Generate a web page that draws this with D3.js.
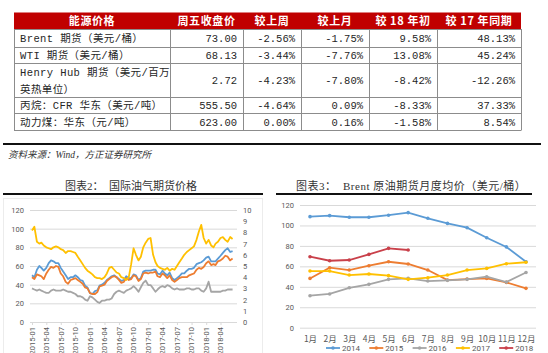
<!DOCTYPE html>
<html>
<head>
<meta charset="utf-8">
<script src="https://cdn.jsdelivr.net/npm/d3@7"></script>
<style>
body { margin: 0; background: #fff; }
svg { display: block; }
</style>
</head>
<body>
<script>

// ---- table data ----
var tableHeader = ["能源价格", "周五收盘价", "较上周", "较上月", "较 18 年初", "较 17 年同期"];
var products = [["Brent 期货（美元/桶）"], ["WTI 期货（美元/桶）"], ["Henry Hub 期货（美元/百万", "英热单位）"], ["丙烷：CFR 华东（美元/吨）"], ["动力煤：华东（元/吨）"]];
var closePrice = ["73.00", "68.13", "2.72", "555.50", "623.00"];
var chgWeek = ["-2.56%", "-3.44%", "-4.23%", "-4.64%", "0.00%"];
var chgMonth = ["-1.75%", "-7.76%", "-7.80%", "0.09%", "0.16%"];
var chgYtd = ["9.58%", "13.08%", "-8.42%", "-8.33%", "-1.58%"];
var chgYoy = ["48.13%", "45.24%", "-12.26%", "37.33%", "8.54%"];

// ---- chart 2: futures prices, two points per month from 2015-01 ----
var dateTicks = ["2015-01", "2015-04", "2015-07", "2015-10", "2016-01", "2016-04", "2016-07", "2016-10",
                 "2017-01", "2017-04", "2017-07", "2017-10", "2018-01", "2018-04"];
var brent = [50,48, 56,60, 58,55, 58,63, 66,65, 63,63, 58,54, 50,46, 48,48, 50,48, 45,44, 39,37,
             31,30, 33,34, 39,40, 42,45, 47,49, 50,48, 46,44, 45,49, 47,47, 51,50, 45,47, 54,55,
             55,55, 56,56, 52,51, 55,52, 50,53, 47,45, 47,49, 52,52, 55,57, 57,58, 62,63, 64,66,
             69,70, 65,65, 65,68, 71,74, 77,79, 75,76];
var wti = [48,46, 51,50, 49,46, 52,56, 59,58, 60,59, 52,49, 43,41, 45,46, 47,45, 43,41, 37,36,
           31,30, 30,32, 38,39, 40,44, 46,48, 49,48, 45,42, 43,47, 45,46, 50,49, 44,46, 52,53,
           52,53, 53,54, 49,48, 52,50, 47,50, 45,43, 45,47, 48,48, 48,50, 51,52, 56,58, 57,59,
           63,65, 61,62, 61,65, 66,68, 71,70, 66,68];
var henryHub = [3.0,2.9, 2.8,2.9, 2.8,2.7, 2.6,2.6, 2.8,2.9, 2.8,2.8, 2.8,2.9, 2.8,2.7, 2.7,2.6, 2.5,2.3, 2.3,2.2, 2.0,1.9,
                2.3,2.2, 2.0,1.8, 1.7,1.9, 1.9,2.0, 2.0,2.1, 2.5,2.7, 2.8,2.7, 2.6,2.8, 2.9,3.0, 3.2,3.0, 2.7,3.1, 3.5,3.7,
                3.3,3.3, 3.0,2.7, 2.9,3.1, 3.2,3.1, 3.3,3.2, 3.0,2.9, 3.0,2.9, 2.9,2.9, 3.0,3.0, 2.9,2.9, 3.0,3.0, 2.8,2.7,
                3.0,3.6, 2.7,2.7, 2.7,2.7, 2.7,2.8, 2.8,2.9, 2.9,2.9];
var propane = [98,102, 86,84, 85,82, 80,79, 78,80, 81,80, 78,77, 74,76, 76,75, 74,70, 66,62, 58,55,
               53,51, 48,47, 47,46, 48,52, 58,59, 56,53, 52,48, 47,45, 48,62, 79,72, 66,70, 80,85,
               89,90, 72,64, 60,58, 57,56, 58,55, 57,56, 60,64, 68,72, 75,77, 79,81, 88,97, 104,90,
               84,88, 82,80, 84,86, 90,91, 88,86, 91,89];

// ---- chart 3: Brent monthly averages ----
var months = ["1月", "2月", "3月", "4月", "5月", "6月", "7月", "8月", "9月", "10月", "11月", "12月"];
var years = ["2014", "2015", "2016", "2017", "2018"];
var avg2014 = [108.6, 109.6, 108, 108, 110, 112.5, 107, 102, 97.8, 88, 79, 64.5];
var avg2015 = [48.2, 58.7, 56.4, 60.6, 64.5, 62.3, 56.4, 46.6, 47.6, 48.2, 44.3, 38.5];
var avg2016 = [31.3, 33, 39, 42.4, 47.3, 48.2, 45.6, 46.3, 47.3, 49.9, 44.6, 54];
var avg2017 = [55.4, 55.4, 51.5, 52.5, 50.9, 47.3, 48.9, 51.5, 56.4, 58, 62.6, 64];
var avg2018 = [69.4, 65.5, 66.2, 71.7, 77.6, 76];

var width = 548, height = 353;
var cjk = "'Noto Sans CJK SC', sans-serif";
var mono = "'Liberation Mono', 'Noto Sans CJK SC', monospace";
var serif = "'Liberation Serif', 'Noto Sans CJK SC', serif";
var axisFont = "Roboto, 'Noto Sans CJK SC', sans-serif";

var svg = d3.select("body").append("svg")
    .attr("width", width)
    .attr("height", height);

// ================= table =================
var colX = [14, 170, 243, 301, 369, 437, 521];
var rowY = [12.5, 29, 47, 63, 97, 113, 130];
var tbl = svg.append("g");

tbl.append("rect")
    .attr("x", colX[0]).attr("y", rowY[0])
    .attr("width", colX[6] - colX[0]).attr("height", rowY[1] - rowY[0])
    .attr("fill", "#c00000");

tableHeader.forEach(function(h, i) {
    tbl.append("text")
        .attr("x", (colX[i] + colX[i + 1]) / 2)
        .attr("y", rowY[0] + 12.5)
        .attr("text-anchor", "middle")
        .attr("font-family", cjk)
        .attr("font-weight", "bold")
        .attr("font-size", 11)
        .attr("letter-spacing", 0.6)
        .attr("fill", "#fff")
        .text(h);
});

for (var r = 1; r < rowY.length; r++) {
    tbl.append("line")
        .attr("x1", colX[0]).attr("x2", colX[6])
        .attr("y1", rowY[r] + 0.5).attr("y2", rowY[r] + 0.5)
        .attr("stroke", "#8c8c8c").attr("stroke-width", 1);
}
colX.forEach(function(x) {
    tbl.append("line")
        .attr("x1", x + 0.5).attr("x2", x + 0.5)
        .attr("y1", rowY[1]).attr("y2", rowY[6] + 0.5)
        .attr("stroke", "#8c8c8c").attr("stroke-width", 1);
});

var valueCols = [closePrice, chgWeek, chgMonth, chgYtd, chgYoy];
products.forEach(function(lines, r) {
    var mid = (rowY[r + 1] + rowY[r + 2]) / 2;
    lines.forEach(function(t, k) {
        tbl.append("text")
            .attr("x", colX[0] + 6)
            .attr("y", mid + 4 + (k - (lines.length - 1) / 2) * 17)
            .attr("font-family", mono)
            .attr("font-size", 10.5)
            .attr("letter-spacing", 0.4)
            .attr("fill", "#262626")
            .text(t);
    });
    valueCols.forEach(function(col, c) {
        tbl.append("text")
            .attr("x", colX[c + 2] - 6)
            .attr("y", mid + 4)
            .attr("text-anchor", "end")
            .attr("font-family", mono)
            .attr("font-size", 10.5)
            .attr("fill", "#262626")
            .text(col[r]);
    });
});

// source + titles
svg.append("line").attr("x1", 3).attr("x2", 541).attr("y1", 144).attr("y2", 144)
    .attr("stroke", "#111").attr("stroke-width", 2);
svg.append("text")
    .attr("x", 8).attr("y", 158)
    .attr("font-family", serif).attr("font-style", "italic")
    .attr("font-size", 9.5).attr("fill", "#333")
    .text("资料来源：Wind，方正证券研究所");

svg.append("text")
    .attr("x", 65).attr("y", 190)
    .attr("font-family", serif).attr("font-size", 11).attr("fill", "#333")
    .attr("xml:space", "preserve")
    .text("图表2：  国际油气期货价格");
svg.append("line").attr("x1", 3).attr("x2", 263).attr("y1", 194).attr("y2", 194)
    .attr("stroke", "#111").attr("stroke-width", 1.8);

svg.append("text")
    .attr("x", 296).attr("y", 190)
    .attr("font-family", serif).attr("font-size", 11).attr("fill", "#333")
    .attr("letter-spacing", 0.5)
    .attr("xml:space", "preserve")
    .text("图表3：  Brent 原油期货月度均价（美元/桶）");
svg.append("line").attr("x1", 276).attr("x2", 532).attr("y1", 194).attr("y2", 194)
    .attr("stroke", "#111").attr("stroke-width", 1.8);

// ================= chart 2 =================
var c2 = svg.append("g");
c2.append("rect").attr("x", 3.5).attr("y", 198.5).attr("width", 259).attr("height", 170)
    .attr("fill", "none").attr("stroke", "#ececec");

var parseMonth = d3.timeParse("%Y-%m");
var xTime = d3.scaleTime()
    .domain([parseMonth("2015-01"), parseMonth("2018-04")])
    .range([32, 220.5]);
var yLeft = d3.scaleLinear().domain([0, 120]).range([322, 210]);
var yRight = d3.scaleLinear().domain([0, 10]).range([322, 210]);

function pointDate(i) {
    return new Date(2015, Math.floor(i / 2), i % 2 ? 16 : 1);
}

c2.append("g")
    .attr("transform", "translate(30,0)")
    .call(d3.axisLeft(yLeft).tickValues(d3.range(0, 121, 20)).tickSize(-207).tickPadding(6))
    .call(function(g) {
        g.select(".domain").remove();
        g.selectAll(".tick line").attr("stroke", "#d9d9d9");
        g.selectAll(".tick text").attr("fill", "#595959").attr("font-size", 7.5).attr("font-family", axisFont);
    });

c2.append("g")
    .attr("transform", "translate(237,0)")
    .call(d3.axisRight(yRight).ticks(10).tickSize(0).tickPadding(6))
    .call(function(g) {
        g.select(".domain").remove();
        g.selectAll(".tick text").attr("fill", "#595959").attr("font-size", 7.5).attr("font-family", axisFont);
    });

c2.append("g")
    .attr("transform", "translate(0,322)")
    .call(d3.axisBottom(xTime).tickValues(dateTicks.map(parseMonth)).tickSize(3).tickFormat(d3.timeFormat("%Y-%m")))
    .call(function(g) {
        g.select(".domain").attr("stroke", "#d9d9d9").attr("d", "M30,0.5H237");
        g.selectAll(".tick line").attr("stroke", "#d9d9d9");
        g.selectAll(".tick text")
            .attr("fill", "#595959").attr("font-size", 7.5).attr("font-family", axisFont)
            .attr("text-anchor", "end")
            .attr("transform", "rotate(-90)")
            .attr("x", -5).attr("y", 0).attr("dy", "0.32em");
    });

var leftSeries = [
    { values: brent, axis: yLeft, color: "#5b9bd5" },
    { values: wti, axis: yLeft, color: "#ed7d31" },
    { values: henryHub, axis: yRight, color: "#a5a5a5" },
    { values: propane, axis: yLeft, color: "#ffc000" }
];
leftSeries.forEach(function(s) {
    var line = d3.line()
        .x(function(d, i) { return xTime(pointDate(i)); })
        .y(function(d) { return s.axis(d); });
    c2.append("path")
        .datum(s.values)
        .attr("d", line)
        .attr("fill", "none")
        .attr("stroke", s.color)
        .attr("stroke-width", 1.8)
        .attr("stroke-linejoin", "round");
});

// ================= chart 3 =================
var c3 = svg.append("g");
var xMonth = d3.scalePoint().domain(months).range([310, 526]);
var yAvg = d3.scaleLinear().domain([0, 120]).range([327.7, 205]);

c3.append("g")
    .attr("transform", "translate(300,0)")
    .call(d3.axisLeft(yAvg).tickValues(d3.range(0, 121, 20)).tickSize(-236).tickPadding(6))
    .call(function(g) {
        g.select(".domain").remove();
        g.selectAll(".tick line").attr("stroke", "#d9d9d9");
        g.selectAll(".tick text").attr("fill", "#595959").attr("font-size", 7.5).attr("font-family", axisFont);
    });

c3.append("g")
    .attr("transform", "translate(0,327.7)")
    .call(d3.axisBottom(xMonth).tickSize(0).tickPadding(8))
    .call(function(g) {
        g.select(".domain").remove();
        g.selectAll(".tick text").attr("fill", "#595959").attr("font-size", 8.5).attr("font-family", cjk);
    });

var yearSeries = [
    { name: years[0], values: avg2014, color: "#5b9bd5" },
    { name: years[1], values: avg2015, color: "#ed7d31" },
    { name: years[2], values: avg2016, color: "#a5a5a5" },
    { name: years[3], values: avg2017, color: "#ffc000" },
    { name: years[4], values: avg2018, color: "#c9404a" }
];
var avgLine = d3.line()
    .x(function(d, i) { return xMonth(months[i]); })
    .y(function(d) { return yAvg(d); });

yearSeries.forEach(function(s) {
    c3.append("path")
        .datum(s.values)
        .attr("d", avgLine)
        .attr("fill", "none")
        .attr("stroke", s.color)
        .attr("stroke-width", 1.8);
    c3.selectAll(null)
        .data(s.values)
        .enter()
        .append("circle")
        .attr("cx", function(d, i) { return xMonth(months[i]); })
        .attr("cy", function(d) { return yAvg(d); })
        .attr("r", 1.8)
        .attr("fill", s.color);
});

// legend
var legend = c3.append("g").attr("transform", "translate(326,348)");
yearSeries.forEach(function(s, i) {
    var g = legend.append("g").attr("transform", "translate(" + (i * 43.3) + ",0)");
    g.append("line").attr("x1", 0).attr("x2", 14).attr("y1", 0).attr("y2", 0)
        .attr("stroke", s.color).attr("stroke-width", 1.8);
    g.append("circle").attr("cx", 7).attr("cy", 0).attr("r", 1.8).attr("fill", s.color);
    g.append("text").attr("x", 16).attr("y", 3)
        .attr("font-size", 8).attr("font-family", axisFont).attr("fill", "#595959")
        .text(s.name);
});

</script>
</body>
</html>
